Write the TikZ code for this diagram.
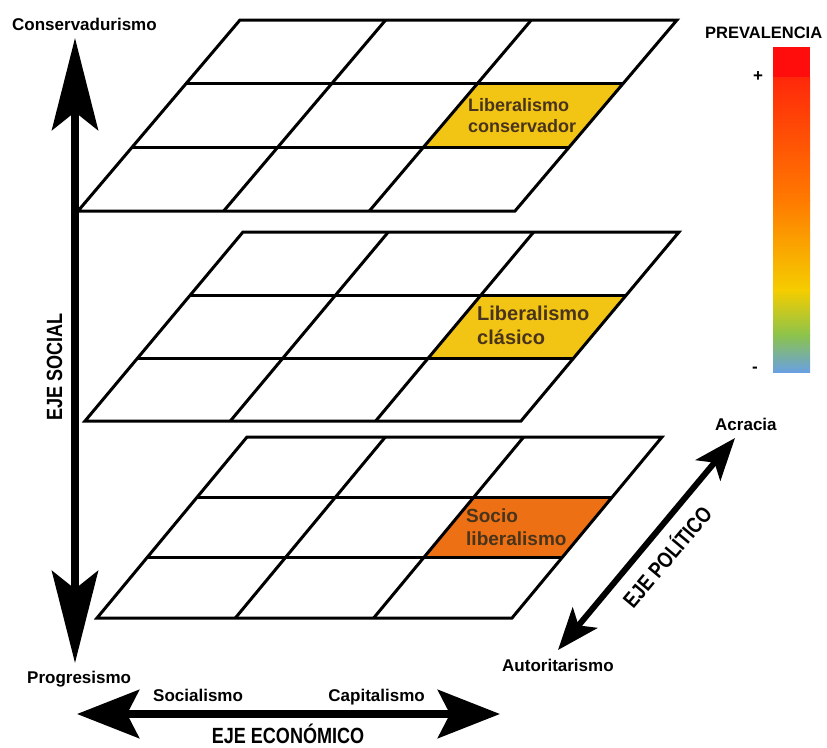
\documentclass[tikz,border=0pt]{standalone}
\usepackage{fontspec}
\setmainfont{Liberation Sans}
\newfontfamily\condfont[FakeStretch=0.82]{Liberation Sans}
\usetikzlibrary{arrows.meta}
\definecolor{cellyellow}{RGB}{242,196,20}
\definecolor{cellorange}{RGB}{238,112,20}
\definecolor{celltext}{RGB}{72,52,28}
\definecolor{gA}{RGB}{255,12,12}
\definecolor{gB}{RGB}{255,40,10}
\definecolor{gC}{RGB}{255,122,0}
\definecolor{gD}{RGB}{245,205,0}
\definecolor{gE}{RGB}{140,195,75}
\definecolor{gF}{RGB}{105,160,225}
\tikzset{
  gridline/.style={line width=3pt, black},
  lbl/.style={font=\bfseries\fontsize{17}{20}\selectfont, inner sep=0pt},
  axt/.style={font=\condfont\bfseries\fontsize{22}{26}\selectfont, inner sep=0pt},
  celltxt/.style={anchor=north west, align=left, inner sep=0pt, text=celltext},
  vaxis/.style={line width=8pt, arrows={Stealth[length=92pt,width=46pt,inset=18pt]-Stealth[length=92pt,width=46pt,inset=18pt]}},
  haxis/.style={line width=8pt, arrows={Stealth[length=62pt,width=48pt,inset=12pt]-Stealth[length=62pt,width=48pt,inset=12pt]}},
  daxis/.style={line width=6pt, arrows={Stealth[length=42pt,width=32pt,inset=10pt]-Stealth[length=42pt,width=32pt,inset=10pt]}}
}
\newcommand{\planogrid}[6]{%
  \fill[#6] ({#1+#3*2/3-#5/3},{#2+#4/3}) -- ({#1+#3-#5/3},{#2+#4/3}) -- ({#1+#3-#5*2/3},{#2+#4*2/3}) -- ({#1+#3*2/3-#5*2/3},{#2+#4*2/3}) -- cycle;
  \foreach \k in {1,2} {
    \draw[gridline] ({#1-\k*#5/3},{#2+\k*#4/3}) -- ({#1+#3-\k*#5/3},{#2+\k*#4/3});
    \draw[gridline] ({#1+\k*#3/3},{#2}) -- ({#1+\k*#3/3-#5},{#2+#4});
  }
  \draw[gridline, line join=miter] (#1,#2) -- ({#1+#3},#2) -- ({#1+#3-#5},{#2+#4}) -- ({#1-#5},{#2+#4}) -- cycle;
}
\begin{document}
\begin{tikzpicture}[x=1pt,y=-1pt]
\useasboundingbox (0,0) rectangle (827,747);
\fill[white] (0,0) rectangle (827,747);

% planes
\planogrid{240}{20}{437}{191}{162}{cellyellow}
\planogrid{243}{232}{436}{189}{158}{cellyellow}
\planogrid{247}{437}{415}{181}{150}{cellorange}

% cell labels
\node[celltxt, font=\bfseries\fontsize{18}{21}\selectfont] (libcons) at (468,98) {Liberalismo\\conservador};
\node[celltxt, font=\bfseries\fontsize{20}{24}\selectfont] (libclas) at (477,306) {Liberalismo\\clásico};
\node[celltxt, font=\bfseries\fontsize{19}{23}\selectfont] (sociolib) at (466,508.5) {Socio\\liberalismo};

% axes
\coordinate (socTop) at (75,38);
\coordinate (socBot) at (75,663);
\draw[vaxis] (socBot) -- (socTop);
\coordinate (ecoL) at (77,714);
\coordinate (ecoR) at (500,714);
\draw[haxis] (ecoL) -- (ecoR);
\coordinate (polLo) at (558,650);
\coordinate (polHi) at (735,438);
\draw[daxis] (polLo) -- (polHi);

% axis labels
\node[lbl, anchor=base west] (conserv) at (12,30) {Conservadurismo};
\node[lbl, anchor=base west] (progres) at (27,683) {Progresismo};
\node[lbl, anchor=base west] (socialismo) at (153,701) {Socialismo};
\node[lbl, anchor=base east] (capitalismo) at (425,701) {Capitalismo};
\node[lbl, anchor=base west] (acracia) at (715,430) {Acracia};
\node[lbl, anchor=base west] (autor) at (502,671) {Autoritarismo};
\node[axt, anchor=base] (ejeeco) at (288,743) {EJE ECONÓMICO};
\node[axt, anchor=base, rotate=90] (ejesoc) at (62,367) {EJE SOCIAL};
\node[axt, rotate=50] (ejepol) at (666,556) {EJE POLÍTICO};

% prevalence bar
\node[lbl, anchor=base west, font=\bfseries\fontsize{16.5}{20}\selectfont] (preval) at (705,38) {PREVALENCIA};
\fill[gA] (773,47) rectangle (810,77.5);
\shade[top color=gB, bottom color=gC] (773,77) rectangle (810,200.5);
\shade[top color=gC, bottom color=gD] (773,200) rectangle (810,290.5);
\shade[top color=gD, bottom color=gE] (773,290) rectangle (810,335.5);
\shade[top color=gE, bottom color=gF] (773,335) rectangle (810,372);
\node[lbl, anchor=base] (plus) at (758,81) {+};
\node[lbl, anchor=base] (minus) at (755,372) {-};
\end{tikzpicture}
\end{document}
